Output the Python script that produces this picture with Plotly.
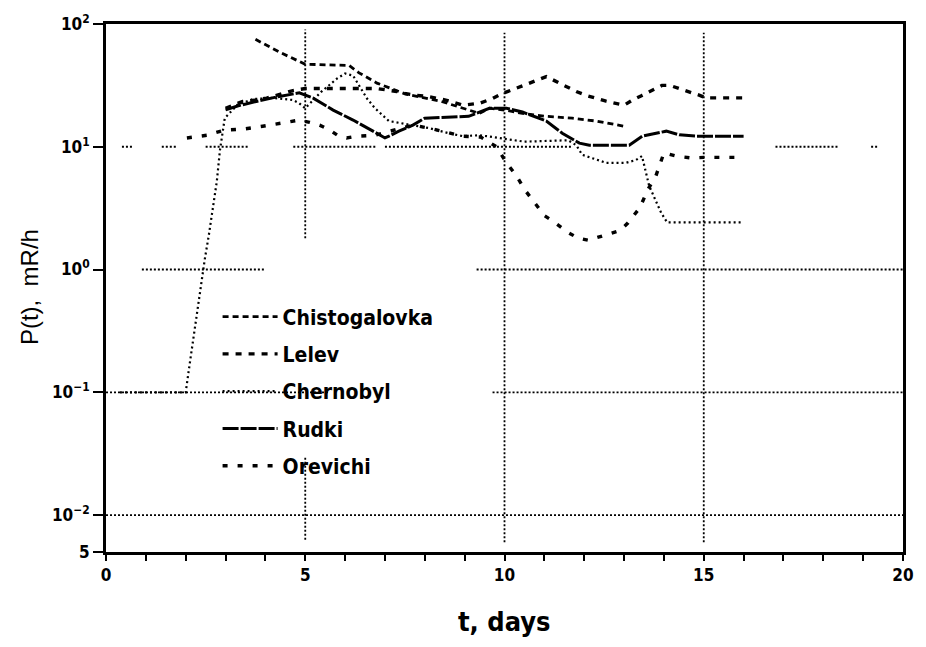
import math
import plotly.graph_objects as go

# ---- measured dose-rate series, P(t) in mR/h versus t in days ----
days_chist = [3.75, 4.4, 5.0, 6.1, 6.35, 6.8, 7.5, 8.4, 9.37, 9.62, 10.05, 10.45, 11.05, 11.7, 12.3, 13.0]
p_chist = [75, 58, 47, 46, 40, 33, 27, 23.5, 18.7, 20.6, 19.8, 18.7, 17.7, 17.1, 16.2, 14.7]

days_lelev = [3.0, 3.43, 3.73, 4.03, 4.36, 4.69, 5.0, 6.8, 7.3, 7.5, 7.8, 8.07, 8.55, 8.95, 9.37, 9.7, 9.95,
              10.37, 10.6, 11.05, 11.3, 11.55, 11.8, 12.05, 12.3, 12.55, 13.0, 13.2, 13.45, 13.7, 13.95,
              14.15, 14.4, 14.65, 14.9, 15.05, 16.0]
p_lelev = [20.6, 23.4, 23.9, 24.9, 26.7, 28.7, 29.8, 29.8, 28.2, 27.2, 26.2, 25.7, 23.9, 21.8, 22.6, 24.7, 27.2,
           30.9, 32.7, 37.3, 34.0, 31.0, 28.2, 26.2, 24.7, 23.5, 21.8, 23.9, 26.2, 28.7, 31.6,
           31.6, 29.8, 28.2, 26.2, 25.0, 25.0]

days_chern = [0.35, 2.0, 2.1, 2.23, 2.35, 2.48, 2.58, 2.68, 2.78, 2.86, 2.98, 3.3, 3.7, 4.2, 4.7, 4.85, 5.0,
              5.4, 5.8, 6.0, 6.2, 6.55, 6.75, 7.1, 7.7, 8.1, 8.6, 8.95, 9.37, 9.55, 10.5, 11.6, 11.8, 11.95,
              12.55, 13.05, 13.3, 13.45, 13.63, 13.8, 13.93, 14.08, 16.0]
p_chern = [0.1, 0.1, 0.17, 0.33, 0.65, 1.22, 1.9, 3.08, 5.2, 9.4, 17.1, 22.0, 24.5, 25.0, 24.0, 22.6, 20.6,
           28.0, 36.0, 39.5, 38.0, 24.7, 20.6, 16.2, 15.0, 14.2, 12.9, 12.2, 12.4, 12.2, 11.0, 11.3, 10.3, 8.6,
           7.4, 7.4, 7.8, 8.4, 4.8, 3.64, 2.9, 2.42, 2.42]

days_rudki = [3.0, 3.3, 3.8, 4.3, 4.85, 5.2, 5.7, 6.2, 6.7, 7.0, 7.1, 7.35, 7.7, 8.0, 9.1, 9.62, 10.05, 10.45,
              11.05, 11.45, 11.88, 12.13, 13.13, 13.46, 14.06, 14.39, 14.8, 16.0]
p_rudki = [20.0, 21.5, 23.5, 25.5, 27.5, 24.9, 19.9, 16.5, 13.4, 11.8, 12.2, 13.4, 15.0, 17.1, 17.7, 20.6, 20.6,
           19.2, 16.2, 12.9, 10.7, 10.3, 10.3, 12.2, 13.4, 12.5, 12.2, 12.2]

days_orev = [2.03, 2.53, 2.98, 3.43, 3.93, 4.41, 4.86, 5.11, 5.36, 5.61, 5.81, 6.04, 6.29, 6.74, 7.7, 8.1, 8.6,
             8.95, 9.4, 9.8, 10.05, 10.3, 10.5, 10.75, 11.0, 11.2, 11.6, 11.85, 12.1, 12.6, 12.9, 13.1, 13.4,
             13.6, 13.8, 14.0, 14.3, 14.7, 15.0, 16.0]
p_orev = [11.8, 12.4, 13.7, 13.9, 14.7, 15.6, 16.5, 15.8, 15.0, 13.7, 12.4, 11.8, 12.2, 12.4, 15.0, 14.2, 12.9,
          12.2, 12.0, 10.0, 7.4, 5.8, 4.5, 3.5, 2.75, 2.5, 2.0, 1.8, 1.73, 1.94, 2.08, 2.4, 3.2,
          4.5, 5.8, 8.9, 8.4, 8.1, 8.2, 8.2]

# ---- axis ticks ----
x_major = [0, 5, 10, 15, 20]
x_ticks = list(range(0, 21))
y_ticks = [0.005, 0.01, 0.1, 1, 10, 100]
y_labels = ["5", "10<sup>−2</sup>", "10<sup>−1</sup>", "10<sup>0</sup>", "10<sup>1</sup>", "10<sup>2</sup>"]

# visible pieces of the dotted reference grid
h_grid = {10: [(0.4, 0.7), (1.4, 1.8), (2.5, 3.6), (4.7, 6.8), (7.0, 11.7), (16.8, 18.4), (19.2, 19.4)],
          1: [(0.9, 4.0), (9.3, 20.0)],
          0.1: [(0.0, 5.6), (9.7, 20.0)],
          0.01: [(0.0, 20.0)]}
v_grid = {5: [(0.0063, 0.03), (1.8, 90.0)],
          10: [(0.006, 85.0)],
          15: [(0.006, 85.0)]}

COND = "DejaVu Sans Condensed"

fig = go.Figure()

for level, pieces in h_grid.items():
    for a, b in pieces:
        fig.add_trace(go.Scatter(x=[a, b], y=[level, level], mode="lines",
                                 line=dict(color="black", width=1.8, dash="2px,2px"),
                                 showlegend=False, hoverinfo="skip"))
for xpos, pieces in v_grid.items():
    for a, b in pieces:
        fig.add_trace(go.Scatter(x=[xpos, xpos], y=[a, b], mode="lines",
                                 line=dict(color="black", width=1.8, dash="2px,2px"),
                                 showlegend=False, hoverinfo="skip"))

series = [
    ("Chistogalovka", days_chist, p_chist, dict(width=2.8, dash="6px,4px")),
    ("Lelev", days_lelev, p_lelev, dict(width=3.4, dash="6px,7px")),
    ("Chernobyl", days_chern, p_chern, dict(width=2.2, dash="2px,3px")),
    ("Rudki", days_rudki, p_rudki, dict(width=3.0, dash="16px,2px")),
    ("Orevichi", days_orev, p_orev, dict(width=3.4, dash="5px,10px")),
]
for name, xs, ys, ln in series:
    fig.add_trace(go.Scatter(x=xs, y=ys, mode="lines", name=name, legendgroup=name,
                             line=dict(color="black", **ln)))

fig.update_layout(
    width=926, height=647,
    margin=dict(l=106, r=22, t=20, b=95),
    paper_bgcolor="white", plot_bgcolor="white",
    showlegend=True,
    legend=dict(x=0.14, y=0.484, xanchor="left", yanchor="top",
                bgcolor="rgba(0,0,0,0)", traceorder="grouped", tracegroupgap=7,
                itemwidth=55,
                font=dict(family=COND, size=21, color="black", weight="bold")),
    xaxis=dict(range=[0, 20], tickmode="array", tickvals=x_ticks,
               ticktext=[str(v) if v in x_major else "" for v in x_ticks],
               ticks="outside", ticklen=6, tickwidth=2, tickcolor="black",
               showline=True, linewidth=2.8, linecolor="black", mirror=True,
               showgrid=False, zeroline=False, ticklabelstandoff=0,
               tickfont=dict(family=COND, size=17, color="black", weight="bold")),
    yaxis=dict(type="log", range=[math.log10(0.005), 2], tickmode="array",
               tickvals=y_ticks, ticktext=y_labels,
               ticks="outside", ticklen=10, tickwidth=2, tickcolor="black",
               showline=True, linewidth=2.8, linecolor="black", mirror=True,
               showgrid=False, zeroline=False,
               tickfont=dict(family=COND, size=17, color="black", weight="bold")),
    annotations=[
        dict(text="t, days", x=0.5, y=-0.1316, xref="paper", yref="paper",
             xanchor="center", yanchor="middle", showarrow=False,
             font=dict(family=COND, size=27, color="black", weight="bold")),
        dict(text="P(t),  mR/h", x=-0.0952, y=0.502, xref="paper", yref="paper",
             xanchor="center", yanchor="middle", textangle=-90, showarrow=False,
             font=dict(family="Liberation Sans", size=24, color="black")),
    ],
)

fig.write_html("out.html")
